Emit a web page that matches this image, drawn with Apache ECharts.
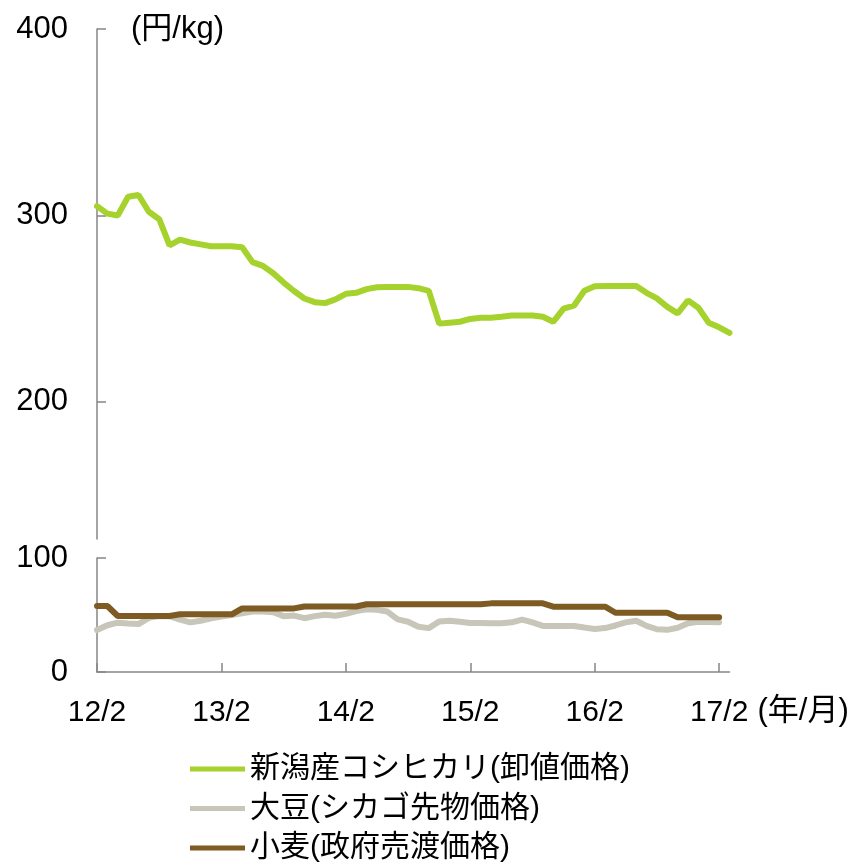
<!DOCTYPE html>
<html>
<head>
<meta charset="utf-8">
<script src="https://cdn.jsdelivr.net/npm/echarts@6/dist/echarts.min.js"></script>
<style>
  html, body { margin: 0; padding: 0; background: #fff; }
  #chart { width: 854px; height: 865px; }
</style>
</head>
<body>
<div id="chart"></div>
<script>
const months = [
  '12/2','12/3','12/4','12/5','12/6','12/7','12/8','12/9','12/10','12/11','12/12',
  '13/1','13/2','13/3','13/4','13/5','13/6','13/7','13/8','13/9','13/10','13/11','13/12',
  '14/1','14/2','14/3','14/4','14/5','14/6','14/7','14/8','14/9','14/10','14/11','14/12',
  '15/1','15/2','15/3','15/4','15/5','15/6','15/7','15/8','15/9','15/10','15/11','15/12',
  '16/1','16/2','16/3','16/4','16/5','16/6','16/7','16/8','16/9','16/10','16/11','16/12',
  '17/1','17/2','17/3'
];

// 新潟産コシヒカリ(卸値価格)
const rice = [305, 301, 300, 310, 311, 302, 298, 284, 287, 285.5, 284.5, 283.5, 283.5, 283.5, 283,
  275, 273, 269, 264, 259.5, 255.5, 253.5, 253, 255, 258, 258.5, 260.5, 261.5, 261.7, 261.7,
  261.7, 261, 259.6, 242, 242.5, 243, 244.5, 245.2, 245.2, 245.7, 246.3, 246.3, 246.3, 245.7, 243,
  250, 251.6, 259.6, 262, 262.2, 262.2, 262.2, 262.2, 258.5, 255.5, 251, 247.5, 254.5, 250.5, 242.5,
  240, 237];

// 大豆(シカゴ先物価格)
const soy = [36.8, 41, 43.3, 42.5, 42, 47.5, 49, 49, 46, 43.5, 45, 47, 48.7, 50, 51.5,
  53, 53, 52.5, 49, 49.5, 47.2, 49, 50.3, 49.4, 51, 53.5, 55, 54.5, 53, 46.2,
  44.1, 39.7, 38.5, 44.3, 45, 44, 43, 43, 42.8, 42.8, 43.6, 46, 43.5, 40.4, 40.4,
  40.4, 40.4, 39, 37.8, 38.5, 40.8, 43.5, 45, 40.5, 37.5, 37, 38.8, 42.7, 44.1, 43.8,
  43.6, null];

// 小麦(政府売渡価格)
const wheat = [57.9, 57.9, 49.1, 49.1, 49.1, 49.1, 49.1, 49.1, 50.6, 50.6, 50.6, 50.6, 50.6, 50.6,
  55.8, 55.8, 55.8, 55.8, 55.8, 55.8, 57.5, 57.5, 57.5, 57.5, 57.5, 57.5,
  59.4, 59.4, 59.4, 59.4, 59.4, 59.4, 59.4, 59.4, 59.4, 59.4, 59.4, 59.4,
  60.2, 60.2, 60.2, 60.2, 60.2, 60.2, 57.3, 57.3, 57.3, 57.3, 57.3, 57.3,
  52, 52, 52, 52, 52, 52, 48, 48, 48, 48, 48, null];

const upperTicks = [200, 300, 400];
const seriesNames = ['新潟産コシヒカリ(卸値価格)', '大豆(シカゴ先物価格)', '小麦(政府売渡価格)'];

const font = "'Liberation Sans', Arial, 'Noto Sans CJK JP', sans-serif";
const axisGray = '#868686';

const chart = echarts.init(document.getElementById('chart'), null, { renderer: 'canvas' });

const options = {
  animation: false,
  textStyle: { fontFamily: font },
  grid: [
    { left: 97, right: 124.5, top: 29, bottom: 326 },
    { left: 97, right: 124.5, top: 558, bottom: 193 }
  ],
  xAxis: [
    { gridIndex: 0, type: 'category', data: months, boundaryGap: false, show: false },
    {
      gridIndex: 1, type: 'category', data: months, boundaryGap: false,
      axisLine: { lineStyle: { color: axisGray, width: 1.5 } },
      axisTick: { inside: true, length: 9, interval: (i) => i % 12 === 0, lineStyle: { color: axisGray, width: 1.5 } },
      axisLabel: { interval: (i) => i % 12 === 0, margin: 26, color: '#000', fontSize: 30, fontFamily: font },
      name: '(年/月)', nameLocation: 'end', nameGap: 28,
      nameTextStyle: { color: '#000', fontSize: 31, fontFamily: font, verticalAlign: 'top', padding: [24, 0, 0, 0] }
    }
  ],
  yAxis: [
    {
      gridIndex: 0, type: 'value', min: 126.5, max: 400,
      splitLine: { show: false },
      axisLine: { show: true, lineStyle: { color: axisGray, width: 1.5 } },
      axisTick: { show: true, inside: true, length: 9, customValues: upperTicks, lineStyle: { color: axisGray, width: 1.5 } },
      axisLabel: { customValues: upperTicks, margin: 29, color: '#000', fontSize: 31, fontFamily: font }
    },
    {
      gridIndex: 1, type: 'value', min: 0, max: 100, interval: 100,
      splitLine: { show: false },
      axisLine: { show: true, lineStyle: { color: axisGray, width: 1.5 } },
      axisTick: { show: true, inside: true, length: 9, lineStyle: { color: axisGray, width: 1.5 } },
      axisLabel: { margin: 29, color: '#000', fontSize: 31, fontFamily: font }
    }
  ],
  legend: {
    orient: 'vertical', left: 190, top: 754, height: 111, padding: 0,
    icon: 'rect', itemWidth: 55, itemHeight: 5, itemGap: 9.5,
    data: seriesNames,
    textStyle: { color: '#000', fontSize: 30, lineHeight: 30, fontFamily: font }
  },
  graphic: [
    { type: 'text', left: 131, top: 14, style: { text: '(円/kg)', fill: '#000', font: '31px ' + font } }
  ],
  series: [
    {
      name: seriesNames[0], type: 'line', xAxisIndex: 0, yAxisIndex: 0, data: rice,
      showSymbol: false, color: '#A6D22E', lineStyle: { width: 6, cap: 'round' }
    },
    {
      name: seriesNames[1], type: 'line', xAxisIndex: 1, yAxisIndex: 1, data: soy,
      showSymbol: false, color: '#C8C6B8', lineStyle: { width: 6, cap: 'round' }
    },
    {
      name: seriesNames[2], type: 'line', xAxisIndex: 1, yAxisIndex: 1, data: wheat,
      showSymbol: false, color: '#7D5B22', lineStyle: { width: 6, cap: 'round' }
    }
  ]
};
chart.setOption(options);
</script>
</body>
</html>
